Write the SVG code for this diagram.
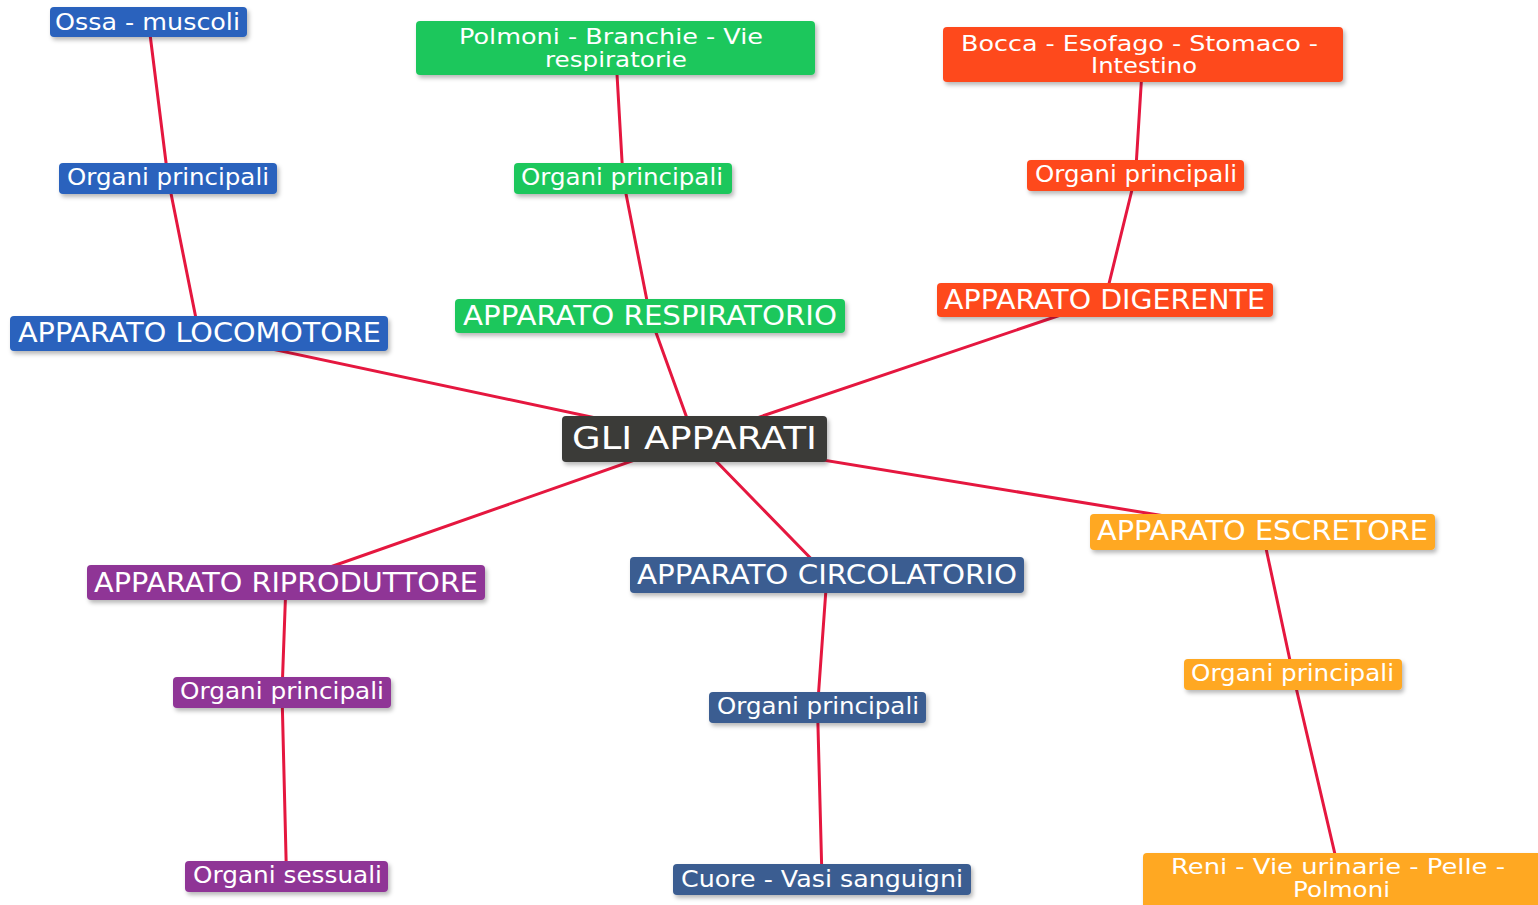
<svg xmlns="http://www.w3.org/2000/svg" width="1538" height="905" viewBox="0 0 1538 905">
<defs>
<filter id="sh" x="-10%" y="-30%" width="120%" height="160%">
<feDropShadow dx="2" dy="3" stdDeviation="2" flood-color="#000" flood-opacity="0.28"/>
</filter>
<style>
.box{filter:url(#sh);}
.t{font-family:"DejaVu Sans","Verdana",sans-serif;fill:#ffffff;text-anchor:middle;}
.s{font-size:23px;}
.b{font-size:26px;}
.m{font-size:22px;}
.c{font-size:32px;}
.blue{fill:#2962bd;}
.green{fill:#1fc75c;}
.red{fill:#fe4a1e;}
.dark{fill:#3b3a39;}
.purple{fill:#8f3596;}
.steel{fill:#3a5d91;}
.orange{fill:#ffa821;}
.conn line{stroke:#e5173f;stroke-width:3;stroke-linecap:round;}
</style>
</defs>
<rect width="1538" height="905" fill="#ffffff"/>
<g id="connectors" class="conn">
<line x1="148.5" y1="22" x2="168" y2="178.5"/>
<line x1="168" y1="178.5" x2="199" y2="333.5"/>
<line x1="199" y1="333.5" x2="694.5" y2="439"/>
<line x1="615.5" y1="48" x2="623" y2="178.5"/>
<line x1="623" y1="178.5" x2="650" y2="316"/>
<line x1="650" y1="316" x2="694.5" y2="439"/>
<line x1="1143" y1="54.5" x2="1135.5" y2="175.5"/>
<line x1="1135.5" y1="175.5" x2="1105" y2="300"/>
<line x1="1105" y1="300" x2="694.5" y2="439"/>
<line x1="694.5" y1="439" x2="1262.5" y2="532"/>
<line x1="1262.5" y1="532" x2="1293" y2="674.5"/>
<line x1="1293" y1="674.5" x2="1341" y2="880"/>
<line x1="694.5" y1="439" x2="827" y2="575"/>
<line x1="827" y1="575" x2="817.5" y2="707.5"/>
<line x1="817.5" y1="707.5" x2="822" y2="879.5"/>
<line x1="694.5" y1="439" x2="286" y2="582.5"/>
<line x1="286" y1="582.5" x2="282" y2="692.5"/>
<line x1="282" y1="692.5" x2="286.5" y2="876.5"/>
</g>
<g id="n-ossa"><rect class="box blue" x="50" y="7" width="197" height="30" rx="4"/><text class="t s" x="147.5" y="30" textLength="185" lengthAdjust="spacingAndGlyphs">Ossa - muscoli</text></g>
<g id="n-org-loco"><rect class="box blue" x="59" y="163" width="218" height="31" rx="4"/><text class="t s" x="168" y="185" textLength="202" lengthAdjust="spacingAndGlyphs">Organi principali</text></g>
<g id="n-loco"><rect class="box blue" x="10" y="316" width="378" height="35" rx="4"/><text class="t b" x="199.5" y="342" textLength="363" lengthAdjust="spacingAndGlyphs">APPARATO LOCOMOTORE</text></g>
<g id="n-polmoni"><rect class="box green" x="416" y="21" width="399" height="54" rx="4"/><text class="t m" x="611" y="44" textLength="304" lengthAdjust="spacingAndGlyphs">Polmoni - Branchie - Vie</text><text class="t m" x="616" y="67" textLength="142" lengthAdjust="spacingAndGlyphs">respiratorie</text></g>
<g id="n-org-resp"><rect class="box green" x="514" y="163" width="218" height="31" rx="4"/><text class="t s" x="622" y="185" textLength="202" lengthAdjust="spacingAndGlyphs">Organi principali</text></g>
<g id="n-resp"><rect class="box green" x="455" y="299" width="390" height="34" rx="4"/><text class="t b" x="650" y="325" textLength="374" lengthAdjust="spacingAndGlyphs">APPARATO RESPIRATORIO</text></g>
<g id="n-bocca"><rect class="box red" x="943" y="27" width="400" height="55" rx="4"/><text class="t m" x="1139.5" y="50.5" textLength="357" lengthAdjust="spacingAndGlyphs">Bocca - Esofago - Stomaco -</text><text class="t m" x="1144" y="73" textLength="106" lengthAdjust="spacingAndGlyphs">Intestino</text></g>
<g id="n-org-dig"><rect class="box red" x="1027" y="160" width="217" height="31" rx="4"/><text class="t s" x="1136" y="182" textLength="202" lengthAdjust="spacingAndGlyphs">Organi principali</text></g>
<g id="n-dig"><rect class="box red" x="937" y="283" width="336" height="34" rx="4"/><text class="t b" x="1104.5" y="308.5" textLength="321" lengthAdjust="spacingAndGlyphs">APPARATO DIGERENTE</text></g>
<g id="n-center"><rect class="box dark" x="562" y="416" width="265" height="46" rx="4"/><text class="t c" x="694.5" y="448.5" textLength="245" lengthAdjust="spacingAndGlyphs">GLI APPARATI</text></g>
<g id="n-ripr"><rect class="box purple" x="87" y="565" width="398" height="35" rx="4"/><text class="t b" x="286" y="592" textLength="384" lengthAdjust="spacingAndGlyphs">APPARATO RIPRODUTTORE</text></g>
<g id="n-org-ripr"><rect class="box purple" x="173" y="677" width="218" height="31" rx="4"/><text class="t s" x="282" y="699" textLength="204" lengthAdjust="spacingAndGlyphs">Organi principali</text></g>
<g id="n-sess"><rect class="box purple" x="185" y="861" width="203" height="31" rx="4"/><text class="t s" x="287.5" y="883" textLength="189" lengthAdjust="spacingAndGlyphs">Organi sessuali</text></g>
<g id="n-circ"><rect class="box steel" x="630" y="557" width="394" height="36" rx="4"/><text class="t b" x="827" y="583.5" textLength="380" lengthAdjust="spacingAndGlyphs">APPARATO CIRCOLATORIO</text></g>
<g id="n-org-circ"><rect class="box steel" x="709" y="692" width="217" height="31" rx="4"/><text class="t s" x="818" y="714" textLength="202" lengthAdjust="spacingAndGlyphs">Organi principali</text></g>
<g id="n-cuore"><rect class="box steel" x="673" y="864" width="298" height="31" rx="4"/><text class="t s" x="822" y="887" textLength="282" lengthAdjust="spacingAndGlyphs">Cuore - Vasi sanguigni</text></g>
<g id="n-escr"><rect class="box orange" x="1090" y="514" width="345" height="36" rx="4"/><text class="t b" x="1262.5" y="540" textLength="331" lengthAdjust="spacingAndGlyphs">APPARATO ESCRETORE</text></g>
<g id="n-org-escr"><rect class="box orange" x="1184" y="659" width="218" height="31" rx="4"/><text class="t s" x="1292.5" y="681" textLength="203" lengthAdjust="spacingAndGlyphs">Organi principali</text></g>
<g id="n-reni"><rect class="box orange" x="1143" y="853" width="402" height="62" rx="4"/><text class="t m" x="1338" y="874" textLength="334" lengthAdjust="spacingAndGlyphs">Reni - Vie urinarie - Pelle -</text><text class="t m" x="1341.5" y="897" textLength="97" lengthAdjust="spacingAndGlyphs">Polmoni</text></g>
</svg>
